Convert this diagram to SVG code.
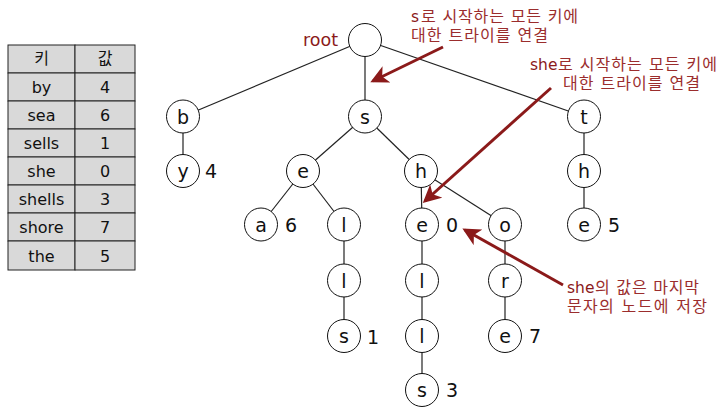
<svg xmlns="http://www.w3.org/2000/svg" width="722" height="410" viewBox="0 0 722 410">
<style>
.tbl rect{fill:#d9d9d9;stroke:#222;stroke-width:1}
.tt{font-family:"DejaVu Sans","Noto Sans CJK KR",sans-serif;font-size:16px;fill:#111;text-anchor:middle}
.node circle{fill:#fff;stroke:#111;stroke-width:1}
.node text{font-family:"DejaVu Sans",sans-serif;font-size:19px;fill:#111;text-anchor:middle}
.val{font-family:"DejaVu Sans",sans-serif;font-size:19px;fill:#111;text-anchor:middle}
.edges line{stroke:#222;stroke-width:1.2}
.ann{font-family:"DejaVu Sans","Noto Sans CJK KR",sans-serif;font-size:16px;fill:#9b2d2d}
.she{font-family:"DejaVu Sans",sans-serif;font-size:15.5px;fill:#8b1a1a}
.annarrow line{stroke:#8b1a1a;stroke-width:3}
</style>
<defs>
<marker id="ah" markerWidth="6" markerHeight="6" refX="5" refY="3" orient="auto" markerUnits="strokeWidth">
<path d="M0,0 L6,3 L0,6 L1.6,3 z" fill="#8b1a1a"/>
</marker>
</defs>
<g id="table" class="tbl">
<rect x="8" y="45" width="67" height="28"/><rect x="75" y="45" width="60" height="28"/>
<rect x="8" y="73" width="67" height="28"/><rect x="75" y="73" width="60" height="28"/>
<rect x="8" y="101" width="67" height="28"/><rect x="75" y="101" width="60" height="28"/>
<rect x="8" y="129" width="67" height="28"/><rect x="75" y="129" width="60" height="28"/>
<rect x="8" y="157" width="67" height="28"/><rect x="75" y="157" width="60" height="28"/>
<rect x="8" y="185" width="67" height="28"/><rect x="75" y="185" width="60" height="28"/>
<rect x="8" y="213" width="67" height="28"/><rect x="75" y="213" width="60" height="28"/>
<rect x="8" y="241" width="67" height="29"/><rect x="75" y="241" width="60" height="29"/>
<text class="tt" x="41.5" y="64" font-size="13">키</text><text class="tt" x="105" y="64" font-size="13">값</text>
<text class="tt" x="41.5" y="93">by</text><text class="tt" x="105" y="93">4</text>
<text class="tt" x="41.5" y="121">sea</text><text class="tt" x="105" y="121">6</text>
<text class="tt" x="41.5" y="149">sells</text><text class="tt" x="105" y="149">1</text>
<text class="tt" x="41.5" y="177">she</text><text class="tt" x="105" y="177">0</text>
<text class="tt" x="41.5" y="205">shells</text><text class="tt" x="105" y="205">3</text>
<text class="tt" x="41.5" y="233">shore</text><text class="tt" x="105" y="233">7</text>
<text class="tt" x="41.5" y="262">the</text><text class="tt" x="105" y="262">5</text>
</g>
<g id="connectors" class="edges">
<line x1="365" y1="40" x2="183" y2="116.5"/>
<line x1="365" y1="40" x2="365" y2="116.5"/>
<line x1="365" y1="40" x2="584" y2="116.5"/>
<line x1="183" y1="116.5" x2="183" y2="171"/>
<line x1="365" y1="116.5" x2="303" y2="171"/>
<line x1="365" y1="116.5" x2="421" y2="171"/>
<line x1="584" y1="116.5" x2="584" y2="171"/>
<line x1="303" y1="171" x2="261" y2="224.5"/>
<line x1="303" y1="171" x2="344" y2="224.5"/>
<line x1="421" y1="171" x2="422" y2="224.5"/>
<line x1="421" y1="171" x2="505" y2="224.5"/>
<line x1="584" y1="171" x2="584" y2="224.5"/>
<line x1="344" y1="224.5" x2="344" y2="280.5"/>
<line x1="422" y1="224.5" x2="422" y2="280.5"/>
<line x1="505" y1="224.5" x2="505" y2="280.5"/>
<line x1="344" y1="280.5" x2="344" y2="336"/>
<line x1="422" y1="280.5" x2="422" y2="336"/>
<line x1="505" y1="280.5" x2="505" y2="336"/>
<line x1="422" y1="336" x2="422" y2="390"/>
</g>
<g id="n-root" class="node"><circle cx="365" cy="40" r="16.5"/></g>
<g id="n-b" class="node"><circle cx="183" cy="116.5" r="16.5"/><text x="183" y="123.5">b</text></g>
<g id="n-s" class="node"><circle cx="365" cy="116.5" r="16.5"/><text x="365" y="123.5">s</text></g>
<g id="n-t" class="node"><circle cx="584" cy="116.5" r="16.5"/><text x="584" y="123.5">t</text></g>
<g id="n-by" class="node"><circle cx="183" cy="171" r="16.5"/><text x="183" y="178">y</text></g>
<g id="n-se" class="node"><circle cx="303" cy="171" r="16.5"/><text x="303" y="178">e</text></g>
<g id="n-sh" class="node"><circle cx="421" cy="171" r="16.5"/><text x="421" y="178">h</text></g>
<g id="n-th" class="node"><circle cx="584" cy="171" r="16.5"/><text x="584" y="178">h</text></g>
<g id="n-sea" class="node"><circle cx="261" cy="224.5" r="16.5"/><text x="261" y="231.5">a</text></g>
<g id="n-sel" class="node"><circle cx="344" cy="224.5" r="16.5"/><text x="344" y="231.5">l</text></g>
<g id="n-she" class="node"><circle cx="422" cy="224.5" r="16.5"/><text x="422" y="231.5">e</text></g>
<g id="n-sho" class="node"><circle cx="505" cy="224.5" r="16.5"/><text x="505" y="231.5">o</text></g>
<g id="n-the" class="node"><circle cx="584" cy="224.5" r="16.5"/><text x="584" y="231.5">e</text></g>
<g id="n-sell" class="node"><circle cx="344" cy="280.5" r="16.5"/><text x="344" y="287.5">l</text></g>
<g id="n-shel" class="node"><circle cx="422" cy="280.5" r="16.5"/><text x="422" y="287.5">l</text></g>
<g id="n-shor" class="node"><circle cx="505" cy="280.5" r="16.5"/><text x="505" y="287.5">r</text></g>
<g id="n-sells" class="node"><circle cx="344" cy="336" r="16.5"/><text x="344" y="343">s</text></g>
<g id="n-shell" class="node"><circle cx="422" cy="336" r="16.5"/><text x="422" y="343">l</text></g>
<g id="n-shore" class="node"><circle cx="505" cy="336" r="16.5"/><text x="505" y="343">e</text></g>
<g id="n-shells" class="node"><circle cx="422" cy="390" r="16.5"/><text x="422" y="397">s</text></g>
<g id="values">
<text class="val" x="211" y="178">4</text>
<text class="val" x="291" y="231.5">6</text>
<text class="val" x="452" y="231.5">0</text>
<text class="val" x="614" y="231.5">5</text>
<text class="val" x="373" y="343.5">1</text>
<text class="val" x="535" y="343">7</text>
<text class="val" x="452" y="397">3</text>
</g>
<text x="303" y="46" font-family="DejaVu Sans,sans-serif" font-size="17.5" fill="#8b1a1a">root</text>
<g id="annotations">
<text class="she" x="411" y="22">s</text>
<text class="ann" x="421" y="22" textLength="157" lengthAdjust="spacing">로 시작하는 모든 키에</text>
<text class="ann" x="411" y="41" textLength="137" lengthAdjust="spacing">대한 트라이를 연결</text>
<text class="she" x="530" y="70">she</text>
<text class="ann" x="558" y="70" textLength="159" lengthAdjust="spacing">로 시작하는 모든 키에</text>
<text class="ann" x="563" y="89" textLength="137" lengthAdjust="spacing">대한 트라이를 연결</text>
<text class="she" x="567" y="293">she</text>
<text class="ann" x="595" y="293" textLength="104" lengthAdjust="spacing">의 값은 마지막</text>
<text class="ann" x="567" y="312" textLength="140" lengthAdjust="spacing">문자의 노드에 저장</text>
</g>
<g id="ann-arrows" class="annarrow">
<line x1="443" y1="47" x2="373" y2="81" marker-end="url(#ah)"/>
<line x1="551" y1="88" x2="425" y2="201" marker-end="url(#ah)"/>
<line x1="563" y1="285" x2="465" y2="230" marker-end="url(#ah)"/>
</g>
</svg>
